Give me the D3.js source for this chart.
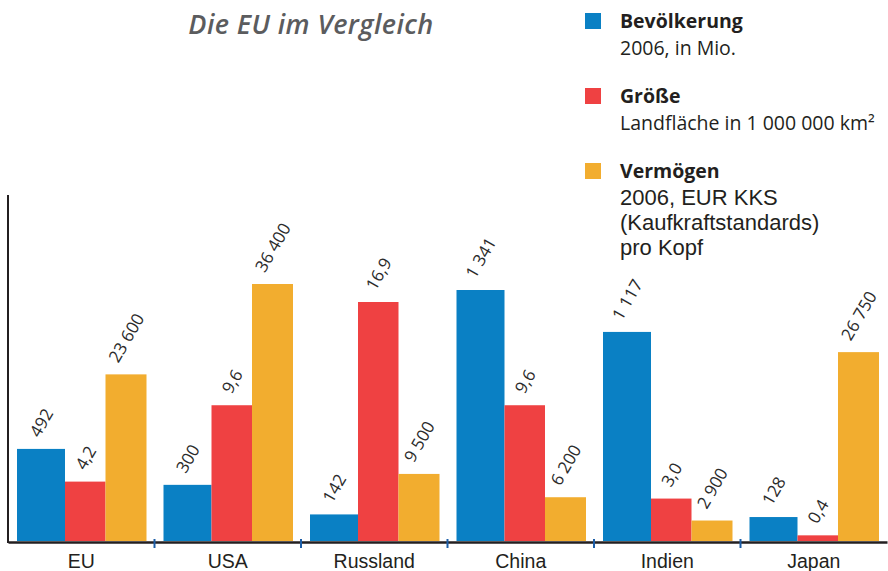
<!DOCTYPE html>
<html lang="de">
<head>
<meta charset="utf-8">
<title>Die EU im Vergleich</title>
<script src="https://d3js.org/d3.v7.min.js"></script>
<style>
  body { margin: 0; background: #fff; }
  svg { display: block; font-family: "Open Sans", "DejaVu Sans", sans-serif; }
  .title { font-style: italic; font-weight: 600; font-size: 27px; fill: #5b5c5e; letter-spacing: 0.4px; }
  .val { font-size: 17px; fill: #2b2b2b; }
  .cat text { font-size: 19.5px; fill: #231f20; }
  .leg-head { font-size: 19.5px; font-weight: 700; fill: #231f20; }
  .leg-sub { font-size: 19.5px; fill: #231f20; }
  .leg-arial { font-family: "Liberation Sans", Arial, sans-serif; font-size: 22px; fill: #231f20; }
</style>
</head>
<body>
<script>
// data
const countries = ["EU", "USA", "Russland", "China", "Indien", "Japan"];
const population = [492, 300, 142, 1341, 1117, 128];      // Mio., 2006
const area = [4.2, 9.6, 16.9, 9.6, 3.0, 0.4];              // Mio. km²
const wealth = [23600, 36400, 9500, 6200, 2900, 26750];    // EUR KKS pro Kopf

const w = 888, h = 571;
const base = 541;

const de = d3.formatLocale({decimal: ",", thousands: "\u00a0", grouping: [3], currency: ["", " €"]});

const svg = d3.select("body").append("svg")
    .attr("width", w)
    .attr("height", h);

// each series has its own scale
const x = d3.scaleBand().domain(countries).range([8, 887]);
const yPop = d3.scaleLinear().domain([0, 1341]).range([base, 290]);
const yArea = d3.scaleLinear().domain([0, 16.9]).range([base, 302]);
const yWealth = d3.scaleLinear().domain([0, 36400]).range([base, 284]);

const series = [
  {values: population, y: yPop, color: "#0a80c4", off: 9, width: 48, fmt: de.format(",d")},
  {values: area, y: yArea, color: "#ef4142", off: 57, width: 40.5, fmt: de.format(".1f")},
  {values: wealth, y: yWealth, color: "#f2ad2f", off: 97.5, width: 41, fmt: de.format(",d")}
];

// bars
series.forEach(s => {
  svg.append("g").selectAll("rect")
    .data(countries)
    .join("rect")
      .attr("x", (c) => x(c) + s.off)
      .attr("y", (c, i) => s.y(s.values[i]))
      .attr("width", s.width)
      .attr("height", (c, i) => base - s.y(s.values[i]))
      .attr("fill", s.color);
});

// rotated value labels, centered over each bar
series.forEach(s => {
  countries.forEach((c, i) => {
    const cx = x(c) + s.off + s.width / 2;
    const top = s.y(s.values[i]);
    const g = svg.append("g");
    g.append("text")
        .attr("class", "val")
        .attr("transform", "rotate(-60)")
        .text(s.fmt(s.values[i]));
    const bb = g.node().getBBox();
    g.attr("transform", "translate(" + (cx - (bb.x + bb.width / 2)) + "," + (top - 8 - (bb.y + bb.height)) + ")");
  });
});

// axes
svg.append("line")
    .attr("x1", 8).attr("x2", 8)
    .attr("y1", 195).attr("y2", base + 2)
    .attr("stroke", "#231f20").attr("stroke-width", 2);

const bottomAxis = d3.axisBottom(x).tickSize(0).tickSizeOuter(0).tickPadding(12);
const gx = svg.append("g")
    .attr("class", "cat")
    .attr("transform", "translate(0," + (base + 1) + ")")
    .call(bottomAxis);
gx.select(".domain").attr("stroke", "#231f20").attr("stroke-width", 2.5);
gx.selectAll("text").attr("font-family", null).attr("font-size", null);

// separators between countries
svg.append("g").selectAll("line")
  .data(countries.slice(1))
  .join("line")
    .attr("x1", (c) => x(c)).attr("x2", (c) => x(c))
    .attr("y1", base - 2).attr("y2", base + 7)
    .attr("stroke", "#1d5ea8").attr("stroke-width", 2);

// title
svg.append("text")
    .attr("class", "title")
    .attr("x", 311).attr("y", 34)
    .attr("text-anchor", "middle")
    .text("Die EU im Vergleich");

// legend
const legend = [
  {color: "#0a80c4", head: "Bevölkerung", lines: ["2006, in Mio."], y: 13, cls: "leg-sub"},
  {color: "#ef4142", head: "Größe", lines: ["Landfläche in 1 000 000 km²"], y: 88, cls: "leg-sub"},
  {color: "#f2ad2f", head: "Vermögen", lines: ["2006, EUR KKS", "(Kaufkraftstandards)", "pro Kopf"], y: 163, cls: "leg-arial"}
];

legend.forEach(l => {
  svg.append("rect")
      .attr("x", 585).attr("y", l.y)
      .attr("width", 16).attr("height", 16)
      .attr("fill", l.color);
  svg.append("text")
      .attr("class", "leg-head")
      .attr("x", 620).attr("y", l.y + 15)
      .text(l.head);
  l.lines.forEach((line, j) => {
    svg.append("text")
        .attr("class", l.cls)
        .attr("x", 620).attr("y", l.y + 42 + j * 25)
        .text(line);
  });
});
</script>
</body>
</html>
